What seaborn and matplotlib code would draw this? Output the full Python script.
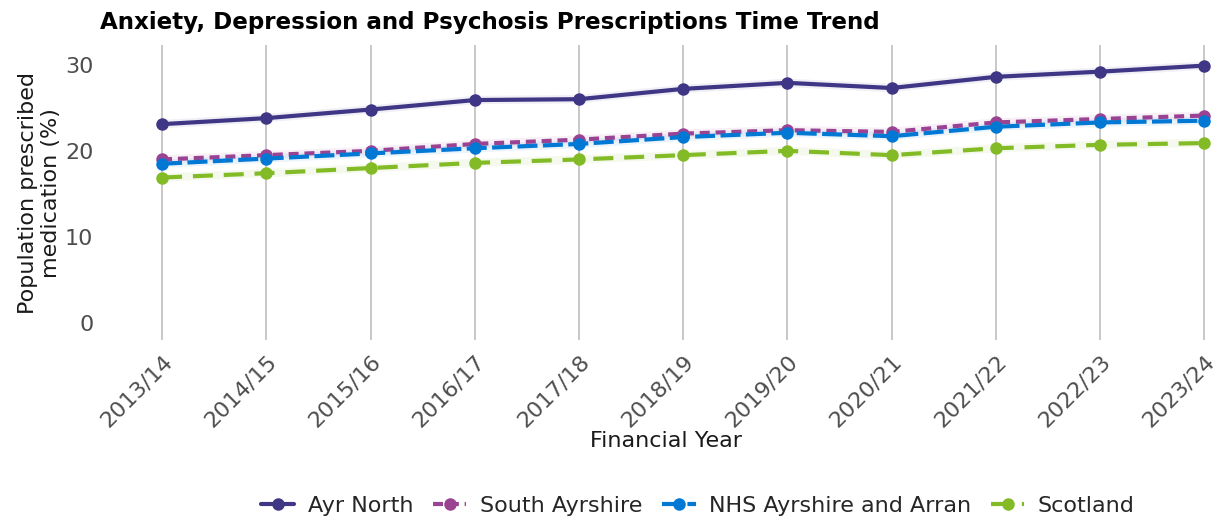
import pandas as pd
import matplotlib.pyplot as plt
import seaborn as sns

years = ['2013/14', '2014/15', '2015/16', '2016/17', '2017/18', '2018/19',
         '2019/20', '2020/21', '2021/22', '2022/23', '2023/24']

ayr_north = [23.1, 23.8, 24.8, 25.9, 26.0, 27.2, 27.9, 27.3, 28.6, 29.2, 29.9]
south_ayrshire = [19.0, 19.5, 20.0, 20.8, 21.3, 22.0, 22.4, 22.2, 23.3, 23.7, 24.1]
nhs_ayrshire = [18.5, 19.1, 19.7, 20.3, 20.8, 21.6, 22.1, 21.7, 22.8, 23.3, 23.5]
scotland = [16.9, 17.4, 18.0, 18.6, 19.0, 19.5, 20.0, 19.5, 20.3, 20.7, 20.9]

areas = ['Ayr North', 'South Ayrshire', 'NHS Ayrshire and Arran', 'Scotland']
palette = {'Ayr North': '#3F3685', 'South Ayrshire': '#9B4393',
           'NHS Ayrshire and Arran': '#0078D4', 'Scotland': '#83BB26'}
dashes = {'Ayr North': '', 'South Ayrshire': (2.4, 1.4),
          'NHS Ayrshire and Arran': (4.8, 1.3), 'Scotland': (4.8, 2.6)}

frames = []
for name, vals in zip(areas, [ayr_north, south_ayrshire, nhs_ayrshire, scotland]):
    frames.append(pd.DataFrame({'year': years, 'value': vals, 'area': name}))
df = pd.concat(frames, ignore_index=True)
df['x'] = df['year'].map({y: i for i, y in enumerate(years)})

sns.set_style('white')
plt.rcParams['font.family'] = ['DejaVu Sans']

fig = plt.figure(figsize=(12.22, 5.17), dpi=100)
ax = fig.add_axes([0.09, 0.342, 0.91, 0.571])

# faint halo behind lines
for name in areas:
    sub = df[df['area'] == name]
    ax.plot(sub['x'], sub['value'], color=palette[name], alpha=0.08, lw=6,
            solid_capstyle='round', zorder=1)

sns.lineplot(data=df, x='x', y='value', hue='area', style='area',
             hue_order=areas, style_order=areas, palette=palette, dashes=dashes,
             markers={a: 'o' for a in areas}, markersize=9, markeredgewidth=0,
             linewidth=3, ax=ax, zorder=3)

ax.set_xlim(-0.5, 10.17)
ax.set_ylim(-2.0, 32.3)
ax.set_xticks(range(len(years)))
ax.set_xticklabels(years, rotation=45, ha='right', rotation_mode='anchor',
                   fontsize=16, color='#4d4d4d')
ax.set_yticks([0, 10, 20, 30])
ax.set_yticklabels(['0', '10', '20', '30'], fontsize=16, color='#4d4d4d')
ax.tick_params(axis='x', length=5, color='#bdbdbd', width=1, pad=3)
ax.tick_params(axis='y', length=0, pad=12)
ax.grid(axis='x', color='#c4c4c4', lw=1.3)
ax.grid(axis='y', visible=False)
for s in ax.spines.values():
    s.set_visible(False)

ax.set_xlabel('Financial Year', fontsize=16, color='#1a1a1a', labelpad=0)
ax.set_ylabel('Population prescribed\nmedication (%)', fontsize=16,
              color='#1a1a1a', labelpad=3)
fig.text(0.082, 0.957, 'Anxiety, Depression and Psychosis Prescriptions Time Trend',
         fontsize=16.6, fontweight='bold', ha='left', va='center', color='black')

handles, labels = ax.get_legend_handles_labels()
ax.legend_.remove()
fig.legend(handles, labels, loc='center', bbox_to_anchor=(0.571, 0.022),
           ncol=4, frameon=False, fontsize=16, handlelength=1.5,
           handletextpad=0.6, columnspacing=0.9)

fig.savefig('out.png', dpi=100)
